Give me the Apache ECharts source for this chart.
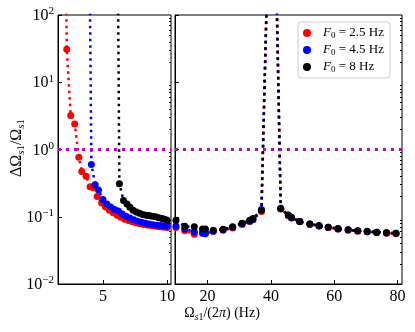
<!DOCTYPE html>
<html>
<head>
<meta charset="utf-8">
<script src="https://cdn.jsdelivr.net/npm/echarts@6/dist/echarts.min.js"></script>
<style>html,body{margin:0;padding:0;background:#fff}#main{width:415px;height:332px}</style>
</head>
<body>
<div id="main"></div>
<script>
var seriesNames = ['F0 = 2.5 Hz', 'F0 = 4.5 Hz', 'F0 = 8 Hz'];
var legendValues = ['2.5', '4.5', '8'];
var colors = ['#ff0000', '#0000ff', '#000000'];

// left panel, Omega/(2pi) < 10 Hz  (values above 100 run off the top)
var redLeft = [[2.12, 1000], [2.18, 31], [2.49, 3.2], [2.8, 2.4], [3.12, 0.77], [3.35, 0.47], [3.69, 0.40],
    [4.0, 0.28], [4.26, 0.27], [4.55, 0.2], [4.9, 0.16], [5.2, 0.14], [5.5, 0.125], [5.8, 0.115],
    [6.1, 0.105], [6.4, 0.098], [6.7, 0.092], [7.0, 0.088], [7.3, 0.084], [7.6, 0.081], [7.9, 0.079],
    [8.2, 0.077], [8.5, 0.075], [8.8, 0.074], [9.1, 0.072], [9.4, 0.071], [9.7, 0.07], [10.0, 0.069]];
var blueLeft = [[3.95, 1000], [4.1, 0.6], [4.39, 0.3], [4.65, 0.25], [5.0, 0.18], [5.3, 0.155],
    [5.6, 0.14], [5.9, 0.128], [6.2, 0.122], [6.5, 0.11], [6.8, 0.102], [7.1, 0.096], [7.4, 0.09],
    [7.7, 0.086], [8.0, 0.083], [8.3, 0.08], [8.6, 0.078], [8.9, 0.076], [9.2, 0.075], [9.5, 0.074],
    [9.8, 0.073], [10.0, 0.073]];
var blackLeft = [[6.15, 1000], [6.28, 0.31], [6.6, 0.175], [6.87, 0.155], [7.1, 0.138], [7.35, 0.125],
    [7.6, 0.118], [7.85, 0.113], [8.1, 0.108], [8.35, 0.105], [8.6, 0.104], [8.85, 0.102], [9.1, 0.1],
    [9.35, 0.097], [9.6, 0.094], [9.8, 0.092], [10.0, 0.089]];

// right panel, 10 - 80 Hz
var redRight = [[10, 0.069], [12.8, 0.062], [15.8, 0.055], [18.4, 0.058], [19.3, 0.058], [21.8, 0.061],
    [24.9, 0.063], [27.9, 0.068], [30.9, 0.077], [33.3, 0.085], [34.3, 0.09], [37.0, 0.12], [39.0, 700],
    [41.5, 1000], [43.1, 0.13], [45.5, 0.104], [46.5, 0.096], [49.1, 0.084], [52.3, 0.077], [55.2, 0.073],
    [58.1, 0.069], [61.2, 0.066], [64.4, 0.063], [67.4, 0.061], [70.4, 0.06], [73.4, 0.058],
    [76.5, 0.057], [79.5, 0.056]];
var blueRight = [[10, 0.073], [12.8, 0.066], [15.8, 0.06], [18.4, 0.057], [19.3, 0.056], [21.8, 0.061],
    [24.9, 0.064], [27.9, 0.07], [30.9, 0.079], [33.3, 0.086], [34.3, 0.091], [37.0, 0.128], [39.0, 700],
    [41.5, 1000], [43.1, 0.132], [45.5, 0.105], [46.5, 0.097], [49.1, 0.085], [52.3, 0.078], [55.2, 0.073],
    [58.1, 0.07], [61.2, 0.066], [64.4, 0.064], [67.4, 0.062], [70.4, 0.06], [73.4, 0.059],
    [76.5, 0.058], [79.5, 0.057]];
var blackRight = [[10, 0.089], [12.8, 0.072], [15.8, 0.071], [18.4, 0.066], [19.3, 0.066], [21.8, 0.063],
    [24.9, 0.065], [27.9, 0.071], [30.9, 0.08], [33.3, 0.089], [34.3, 0.094], [37.0, 0.125], [39.0, 700],
    [41.5, 1000], [43.1, 0.134], [45.5, 0.106], [46.5, 0.098], [49.1, 0.085], [52.3, 0.078], [55.2, 0.074],
    [58.1, 0.07], [61.2, 0.067], [64.4, 0.064], [67.4, 0.062], [70.4, 0.061], [73.4, 0.059],
    [76.5, 0.058], [79.5, 0.057]];

var leftTicks = [5, 10];
var rightTicks = [20, 40, 60, 80];
var minorTicks = [0.02, 0.03, 0.04, 0.05, 0.06, 0.07, 0.08, 0.09, 0.2, 0.3, 0.4, 0.5, 0.6, 0.7, 0.8, 0.9,
    2, 3, 4, 5, 6, 7, 8, 9, 20, 30, 40, 50, 60, 70, 80, 90];
var threshold = 1;

var font = 'Liberation Serif';
var chart = echarts.init(document.getElementById('main'));

function yLabel(v) {
    var e = Math.round(Math.log10(v));
    return '{b|10}{sup|' + (e < 0 ? '\u2212' : '') + Math.abs(e) + '}';
}
var tickRich = {
    b: { fontSize: 16, fontFamily: font, color: '#000', verticalAlign: 'bottom', lineHeight: 18 },
    sup: { fontSize: 11, fontFamily: font, color: '#000', verticalAlign: 'top', lineHeight: 12 }
};

function xAxis(gi, min, max, ticks) {
    return {
        type: 'value', gridIndex: gi, min: min, max: max,
        axisLine: { show: true, lineStyle: { color: '#000', width: 1 } },
        axisTick: { show: true, inside: true, length: 4, customValues: ticks, lineStyle: { color: '#000' } },
        axisLabel: { customValues: ticks, fontSize: 16, fontFamily: font, color: '#000', margin: 5 },
        splitLine: { show: false }
    };
}
function yAxis(gi, labels) {
    return {
        type: 'log', logBase: 10, gridIndex: gi, min: 0.01, max: 100,
        axisLine: { show: true, lineStyle: { color: '#000', width: 1 } },
        axisTick: { show: true, inside: true, length: 4, lineStyle: { color: '#000' } },
        axisLabel: { show: labels, formatter: yLabel, rich: tickRich, margin: 4 },
        splitLine: { show: false }
    };
}
function yMinor(gi) {
    return {
        type: 'log', logBase: 10, gridIndex: gi, min: 0.01, max: 100,
        axisLine: { show: false },
        axisTick: { show: true, inside: true, length: 2, customValues: minorTicks, lineStyle: { color: '#000' } },
        axisLabel: { show: false },
        splitLine: { show: false }
    };
}

function makeSeries(i, data, xi, yi, withLine) {
    var s = {
        type: 'line', name: seriesNames[i], xAxisIndex: xi, yAxisIndex: yi, data: data,
        symbol: 'circle', symbolSize: 7, showSymbol: true, clip: true, z: 2 + i,
        itemStyle: { color: colors[i] },
        lineStyle: { color: colors[i], width: 2.5, type: [2.5, 4] },
        emphasis: { disabled: true }
    };
    if (withLine) {
        s.markLine = {
            silent: true, symbol: 'none', animation: false,
            label: { show: false },
            lineStyle: { color: '#bf00bf', width: 3, type: [3, 5] },
            data: [{ yAxis: threshold }]
        };
    }
    return s;
}

var subRich = {
    n: { fontSize: 16, fontFamily: font, color: '#000', verticalAlign: 'middle', lineHeight: 20 },
    s: { fontSize: 11, fontFamily: font, fontStyle: 'italic', color: '#000', verticalAlign: 'bottom', lineHeight: 14 },
    t: { fontSize: 11, fontFamily: font, color: '#000', verticalAlign: 'bottom', lineHeight: 14 },
    g: { fontSize: 16, fontFamily: font, fontStyle: 'italic', color: '#000', verticalAlign: 'middle', lineHeight: 20 }
};
var xRich = {
    n: { fontSize: 14, fontFamily: font, color: '#000', verticalAlign: 'middle', lineHeight: 18 },
    s: { fontSize: 10, fontFamily: font, fontStyle: 'italic', color: '#000', verticalAlign: 'bottom', lineHeight: 12 },
    t: { fontSize: 10, fontFamily: font, color: '#000', verticalAlign: 'bottom', lineHeight: 12 },
    g: { fontSize: 14, fontFamily: font, fontStyle: 'italic', color: '#000', verticalAlign: 'middle', lineHeight: 18 }
};

var option = {
    animation: false,
    backgroundColor: '#fff',
    grid: [
        { left: 58, right: 244, top: 15, bottom: 48, show: true, borderColor: '#000', borderWidth: 1 },
        { left: 175, right: 13, top: 15, bottom: 48, show: true, borderColor: '#000', borderWidth: 1 }
    ],
    xAxis: [xAxis(0, 1.5, 10.3, leftTicks), xAxis(1, 9.7, 81.4, rightTicks)],
    yAxis: [yAxis(0, true), yMinor(0), yAxis(1, false), yMinor(1)],
    legend: {
        orient: 'vertical', left: 298, top: 22, icon: 'circle',
        itemWidth: 22, itemHeight: 8, itemGap: 3, padding: [4, 6, 4, 5],
        borderColor: '#cccccc', borderWidth: 1, borderRadius: 3, backgroundColor: '#fff',
        data: seriesNames,
        formatter: function (name) {
            return '{i|F}{s|0}{n| = ' + legendValues[seriesNames.indexOf(name)] + ' Hz}';
        },
        textStyle: {
            lineHeight: 14,
            rich: {
                i: { fontSize: 13, fontFamily: font, fontStyle: 'italic', color: '#000', verticalAlign: 'middle', lineHeight: 14 },
                s: { fontSize: 9, fontFamily: font, color: '#000', verticalAlign: 'bottom', lineHeight: 10 },
                n: { fontSize: 13, fontFamily: font, color: '#000', verticalAlign: 'middle', lineHeight: 14 }
            }
        }
    },
    graphic: [
        {
            type: 'text', x: 17, y: 148, rotation: Math.PI / 2,
            style: { text: '{n|\u0394\u03a9}{s|s}{t|1}{n|/\u03a9}{s|s}{t|1}', rich: subRich, align: 'center', verticalAlign: 'middle' }
        },
        {
            type: 'text', x: 222, y: 313,
            style: { text: '{n|\u03a9}{s|s}{t|1}{n|/(2}{g|\u03c0}{n|) (Hz)}', rich: xRich, align: 'center', verticalAlign: 'middle' }
        }
    ],
    series: [
        makeSeries(0, redLeft, 0, 0, true),
        makeSeries(1, blueLeft, 0, 0, false),
        makeSeries(2, blackLeft, 0, 0, false),
        makeSeries(0, redRight, 1, 2, true),
        makeSeries(1, blueRight, 1, 2, false),
        makeSeries(2, blackRight, 1, 2, false)
    ]
};

chart.setOption(option);
window.onresize = chart.resize;
</script>
</body>
</html>
